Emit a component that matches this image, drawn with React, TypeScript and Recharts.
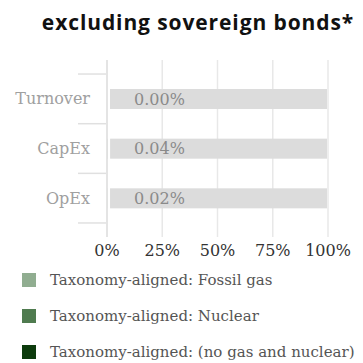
import React from "react";
import { BarChart, Bar, XAxis, YAxis, CartesianGrid, LabelList } from "recharts";

const categories = ["Turnover", "CapEx", "OpEx"];
const fossilGas = [0, 0, 0];
const nuclear = [0, 0, 0];
const alignedNoGasNuclear = [0.0, 0.04, 0.02];
const labels = ["0.00%", "0.04%", "0.02%"];
const xTicks = [0, 25, 50, 75, 100];

const seriesNames = [
  "Taxonomy-aligned: Fossil gas",
  "Taxonomy-aligned: Nuclear",
  "Taxonomy-aligned: (no gas and nuclear)",
];
const seriesColors = ["#90ad90", "#4f7b4f", "#0d3b0d"];

const data = categories.map((c, i) => ({
  name: c,
  gas: fossilGas[i],
  nuclear: nuclear[i],
  aligned: alignedNoGasNuclear[i],
  other: 100 - fossilGas[i] - nuclear[i] - alignedNoGasNuclear[i],
  label: labels[i],
}));

const SERIF = "'DejaVu Serif', serif";
const HALF_BAND = 24.8;

const YTick = (props: any) => {
  const { y, payload, index } = props;
  return (
    <g>
      <line x1={78} x2={106} y1={y - HALF_BAND} y2={y - HALF_BAND} stroke="#e0e0e0" strokeWidth={1.5} />
      {index === categories.length - 1 && (
        <line x1={78} x2={106} y1={y + HALF_BAND} y2={y + HALF_BAND} stroke="#e0e0e0" strokeWidth={1.5} />
      )}
      <text x={90} y={y} dy="0.35em" textAnchor="end" fill="#a0a0a0" fontSize={16} fontFamily={SERIF}>
        {payload.value}
      </text>
    </g>
  );
};

const OtherShape = (props: any) => {
  const { x, y, width, height } = props;
  return <rect x={x + 3} y={y} width={Math.max(0, width - 4)} height={height} fill="#dcdcdc" />;
};

const renderLabel = (props: any) => {
  const { y, height, index } = props;
  return (
    <text x={107 + 27} y={y + height / 2} dy="0.35em" fill="#8a8a8a" fontSize={16} fontFamily={SERIF}>
      {data[index].label}
    </text>
  );
};

export default function App() {
  return (
    <div style={{ position: "absolute", left: 0, top: 0, width: 363, height: 363, background: "#fff", overflow: "hidden" }}>
      <div
        style={{
          position: "absolute",
          left: 0,
          width: 396,
          top: 8,
          textAlign: "center",
          fontFamily: "'Open Sans', sans-serif",
          fontWeight: 700,
          fontSize: 21,
          letterSpacing: 0.9,
          color: "#111",
          whiteSpace: "nowrap",
        }}
      >
        excluding sovereign bonds*
      </div>
      <BarChart
        width={363}
        height={270}
        data={data}
        layout="vertical"
        margin={{ top: 60, right: 35, left: 0, bottom: 3 }}
      >
        <CartesianGrid horizontal={false} stroke="#e8e8e8" strokeWidth={1.5} />
        <XAxis
          type="number"
          domain={[0, 100]}
          ticks={xTicks}
          tickFormatter={(v) => `${v}%`}
          axisLine={false}
          tickLine={false}
          height={30}
          tickMargin={2}
          tick={{ fill: "#333", fontSize: 16, fontFamily: SERIF }}
          interval={0}
        />
        <YAxis
          type="category"
          dataKey="name"
          width={107}
          axisLine={{ stroke: "#e0e0e0", strokeWidth: 1.5 }}
          tickLine={false}
          tick={<YTick />}
          padding={{ top: 14, bottom: 14 }}
        />
        <Bar dataKey="gas" stackId="a" fill={seriesColors[0]} barSize={20} isAnimationActive={false} />
        <Bar dataKey="nuclear" stackId="a" fill={seriesColors[1]} barSize={20} isAnimationActive={false} />
        <Bar dataKey="aligned" stackId="a" fill={seriesColors[2]} barSize={20} isAnimationActive={false} />
        <Bar dataKey="other" stackId="a" fill="#dcdcdc" barSize={20} shape={<OtherShape />} isAnimationActive={false}>
          <LabelList dataKey="label" content={renderLabel} />
        </Bar>
      </BarChart>
      <div style={{ position: "absolute", left: 0, top: 262, fontFamily: SERIF, fontSize: 15, color: "#555" }}>
        {seriesNames.map((n, i) => (
          <div key={n} style={{ display: "flex", alignItems: "center", height: 36, whiteSpace: "nowrap" }}>
            <span style={{ display: "inline-block", width: 14, height: 14, background: seriesColors[i], marginLeft: 22, marginRight: 14 }} />
            <span>{n}</span>
          </div>
        ))}
      </div>
    </div>
  );
}
